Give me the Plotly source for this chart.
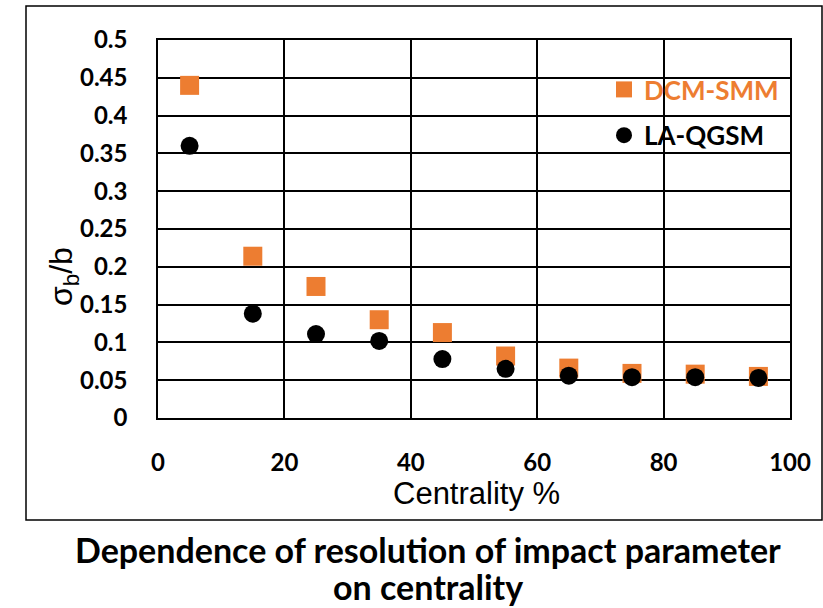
import plotly.graph_objects as go

centrality = [5, 15, 25, 35, 45, 55, 65, 75, 85, 95]
dcm_smm = [0.44, 0.214, 0.174, 0.130, 0.113, 0.082, 0.066, 0.059, 0.058, 0.055]
la_qgsm = [0.360, 0.138, 0.111, 0.102, 0.078, 0.065, 0.056, 0.054, 0.054, 0.053]
series_names = ["DCM-SMM", "LA-QGSM"]
x_title = "Centrality %"
y_title = "σ<sub>b</sub>/b"
title_lines = ["Dependence of resolution of impact parameter", "on centrality"]

W, H = 823, 608
L, R, T, B = 158, 790, 40, 418  # plot area in pixels
pw, ph = R - L, B - T


def px(x):
    return (x - L) / pw


def py(y):
    return (B - y) / ph


ORANGE = "#ED7D31"

fig = go.Figure()
fig.add_trace(go.Scatter(
    x=centrality, y=dcm_smm, mode="markers",
    name=f"<span style='color:{ORANGE}'>{series_names[0]}</span>",
    legendgroup="a",
    marker=dict(symbol="square", size=19, color=ORANGE),
))
fig.add_trace(go.Scatter(
    x=centrality, y=la_qgsm, mode="markers",
    name=series_names[1], legendgroup="b",
    marker=dict(symbol="circle", size=18, color="black"),
))

tickfont = dict(family="Lato", size=24, color="black", weight="bold")
fig.update_xaxes(
    range=[0, 100], dtick=20, tick0=0,
    showgrid=True, gridcolor="black", gridwidth=1.5,
    showline=True, linecolor="black", linewidth=1.5, mirror=True,
    zeroline=False, tickfont=tickfont, ticks="", ticklabelstandoff=22,
)
fig.update_yaxes(
    range=[0, 0.5], dtick=0.05, tick0=0,
    showgrid=True, gridcolor="black", gridwidth=1.5,
    showline=True, linecolor="black", linewidth=1.5, mirror=True,
    zeroline=False, tickfont=tickfont, ticks="", ticklabelstandoff=24,
)

fig.add_annotation(
    text=y_title, xref="paper", yref="paper", x=px(63), y=py(277),
    showarrow=False, textangle=-90, xanchor="center", yanchor="middle",
    font=dict(family="Liberation Sans", size=32, color="black"),
)
fig.add_annotation(
    text=x_title, xref="paper", yref="paper", x=px(476), y=py(494),
    showarrow=False, xanchor="center", yanchor="middle",
    font=dict(family="Liberation Sans", size=31, color="black"),
)
for line, yc in zip(title_lines, [549, 586]):
    fig.add_annotation(
        text=line, xref="paper", yref="paper", x=px(428), y=py(yc),
        showarrow=False, xanchor="center", yanchor="middle",
        font=dict(family="Lato", size=34, color="black", weight="bold"),
    )

# outer chart border
fig.add_shape(
    type="rect", xref="paper", yref="paper",
    x0=px(26), x1=px(822), y0=py(520), y1=py(6),
    line=dict(color="black", width=1.5), fillcolor="rgba(0,0,0,0)",
)

fig.update_layout(
    width=W, height=H,
    margin=dict(l=L, r=W - R, t=T, b=H - B, pad=0),
    paper_bgcolor="white", plot_bgcolor="white",
    showlegend=True,
    legend=dict(
        x=px(604), y=py(66), xanchor="left", yanchor="top",
        bgcolor="rgba(0,0,0,0)", borderwidth=0,
        font=dict(family="Lato", size=26, color="black", weight="bold"),
        tracegroupgap=9,
    ),
)

fig.write_html("out.html")
